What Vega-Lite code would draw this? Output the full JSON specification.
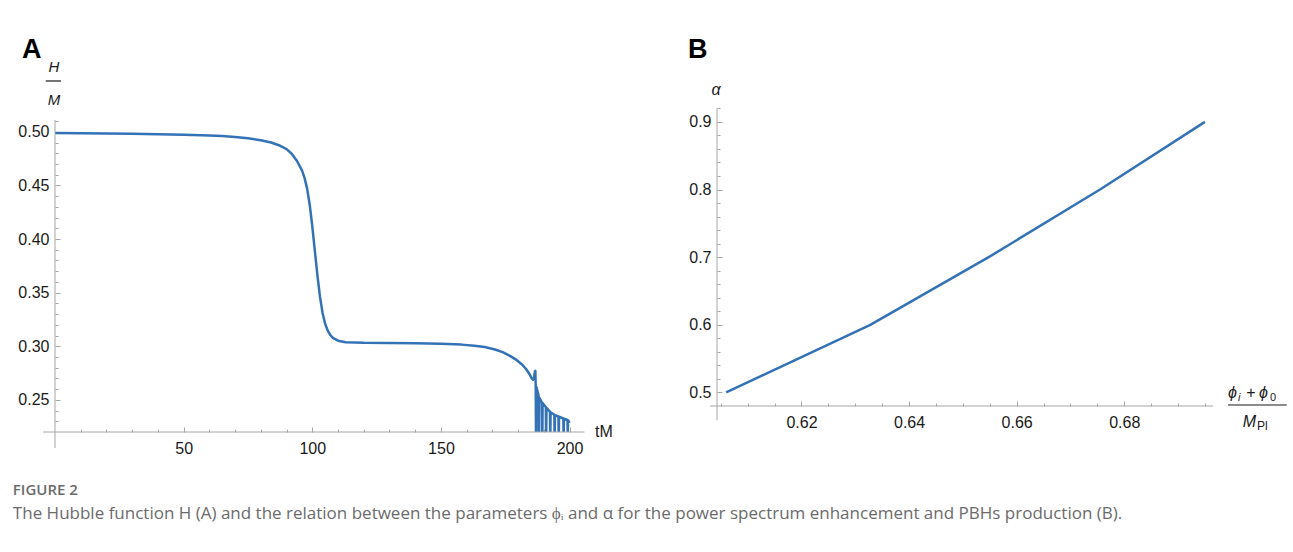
{
  "$schema": "https://vega.github.io/schema/vega-lite/v6.json",
  "background": "white",
  "padding": {"left": 12, "top": 36, "right": 5, "bottom": 5},
  "autosize": {"type": "pad"},
  "config": {
    "view": {"stroke": null},
    "axis": {"grid": false, "domain": false, "title": null, "labelFont": "Liberation Sans", "labelFontSize": 16, "labelColor": "#1a1a1a", "tickColor": "#a6a6a6", "tickWidth": 1, "labelFlush": false, "labelOverlap": false},
    "text": {"font": "Liberation Sans", "color": "#1a1a1a"}
  },
  "title": {
    "text": "FIGURE 2",
    "subtitle": "The Hubble function H (A) and the relation between the parameters ϕᵢ and α for the power spectrum enhancement and PBHs production (B).",
    "orient": "bottom",
    "anchor": "start",
    "frame": "bounds",
    "dx": -5,
    "offset": 27,
    "font": "Open Sans",
    "fontSize": 15,
    "fontWeight": 600,
    "color": "#6b6b6b",
    "subtitleFont": "Open Sans",
    "subtitleFontSize": 17,
    "subtitleColor": "#6b6b6b",
    "subtitlePadding": 8
  },
  "bounds": "flush",
  "spacing": 132,
  "hconcat": [
    {
      "width": 530,
      "height": 324,
      "resolve": {"axis": {"x": "independent", "y": "independent"}},
      "layer": [
        {
          "data": {"values": [
            {"t": 0, "h": 0.4988}, {"t": 10, "h": 0.4987}, {"t": 20, "h": 0.4985}, {"t": 30, "h": 0.4982}, {"t": 40, "h": 0.4978},
            {"t": 50, "h": 0.4973}, {"t": 60, "h": 0.4965}, {"t": 65, "h": 0.496}, {"t": 70, "h": 0.4952}, {"t": 75, "h": 0.494},
            {"t": 80, "h": 0.4922}, {"t": 84, "h": 0.49}, {"t": 87, "h": 0.4875}, {"t": 90, "h": 0.4838}, {"t": 92, "h": 0.4795},
            {"t": 94, "h": 0.473}, {"t": 96, "h": 0.464}, {"t": 97, "h": 0.457}, {"t": 98, "h": 0.447}, {"t": 99, "h": 0.432},
            {"t": 100, "h": 0.412}, {"t": 101, "h": 0.389}, {"t": 102, "h": 0.366}, {"t": 103, "h": 0.346}, {"t": 104, "h": 0.331},
            {"t": 105, "h": 0.321}, {"t": 106, "h": 0.3145}, {"t": 107, "h": 0.3105}, {"t": 108, "h": 0.3078}, {"t": 110, "h": 0.3052},
            {"t": 113, "h": 0.3038}, {"t": 120, "h": 0.3032}, {"t": 130, "h": 0.303}, {"t": 140, "h": 0.3027}, {"t": 150, "h": 0.3022},
            {"t": 158, "h": 0.3015}, {"t": 163, "h": 0.3005}, {"t": 167, "h": 0.2992}, {"t": 171, "h": 0.297}, {"t": 174, "h": 0.2945},
            {"t": 177, "h": 0.2908}, {"t": 179.5, "h": 0.287}, {"t": 181.5, "h": 0.283}, {"t": 183, "h": 0.279}, {"t": 184.3, "h": 0.2745},
            {"t": 185.2, "h": 0.2705}, {"t": 185.8, "h": 0.2688}, {"t": 186.2, "h": 0.2705}, {"t": 186.5, "h": 0.276}, {"t": 186.7, "h": 0.277},
            {"t": 186.85, "h": 0.262}, {"t": 187.0, "h": 0.2}, {"t": 187.12, "h": 0.262}, {"t": 187.98, "h": 0.254}, {"t": 188.1, "h": 0.203},
            {"t": 188.22, "h": 0.252}, {"t": 189.28, "h": 0.2475}, {"t": 189.4, "h": 0.206}, {"t": 189.52, "h": 0.247}, {"t": 190.78, "h": 0.243},
            {"t": 190.9, "h": 0.209}, {"t": 191.02, "h": 0.2425}, {"t": 192.38, "h": 0.239}, {"t": 192.5, "h": 0.211}, {"t": 192.62, "h": 0.2385},
            {"t": 194.08, "h": 0.236}, {"t": 194.2, "h": 0.213}, {"t": 194.32, "h": 0.2357}, {"t": 195.68, "h": 0.2345}, {"t": 195.8, "h": 0.215},
            {"t": 195.92, "h": 0.2342}, {"t": 197.58, "h": 0.2326}, {"t": 197.7, "h": 0.216}, {"t": 197.82, "h": 0.2324}, {"t": 199.18, "h": 0.2312},
            {"t": 199.3, "h": 0.217}, {"t": 199.42, "h": 0.231}, {"t": 200, "h": 0.2285}
          ]},
          "mark": {"type": "line", "clip": true, "color": "#3472b6", "strokeWidth": 2.5, "strokeJoin": "round"},
          "encoding": {
            "x": {"field": "t", "type": "quantitative", "scale": {"domain": [0, 206], "nice": false, "zero": false},
                  "axis": {"orient": "bottom", "values": [50, 100, 150, 200], "format": "d", "tickSize": -5, "labelPadding": 13}},
            "y": {"field": "h", "type": "quantitative", "scale": {"domain": [0.22, 0.5222], "nice": false, "zero": false},
                  "axis": {"orient": "left", "values": [0.25, 0.3, 0.35, 0.4, 0.45, 0.5], "format": ".2f", "tickSize": -5, "labelPadding": 11}}
          }
        },
        {
          "data": {"values": [{}]},
          "mark": {"type": "rule", "color": "#a6a6a6", "strokeWidth": 1},
          "encoding": {
            "x": {"datum": 0, "type": "quantitative", "axis": null},
            "y": {"datum": 0.205, "type": "quantitative",
                  "axis": {"orient": "left", "labels": false, "tickSize": -3, "values": [0.21, 0.23, 0.24, 0.26, 0.27, 0.28, 0.29, 0.31, 0.32, 0.33, 0.34, 0.36, 0.37, 0.38, 0.39, 0.41, 0.42, 0.43, 0.44, 0.46, 0.47, 0.48, 0.49, 0.51]}},
            "y2": {"datum": 0.511}
          }
        },
        {
          "data": {"values": [{}]},
          "mark": {"type": "rule", "color": "#a6a6a6", "strokeWidth": 1},
          "encoding": {
            "x": {"datum": -4.6, "type": "quantitative",
                  "axis": {"orient": "bottom", "labels": false, "tickSize": -3, "values": [10, 20, 30, 40, 60, 70, 80, 90, 110, 120, 130, 140, 160, 170, 180, 190]}},
            "x2": {"datum": 205.8},
            "y": {"datum": 0.22, "type": "quantitative", "axis": null}
          }
        },
        {
          "data": {"values": [{}]},
          "mark": {"type": "rule", "color": "#1a1a1a", "strokeWidth": 1.2},
          "encoding": {
            "x": {"datum": -3.6, "type": "quantitative", "axis": null},
            "x2": {"datum": 2.3},
            "y": {"datum": 0.5474, "type": "quantitative", "axis": null}
          }
        },
        {
          "data": {"values": [{}]},
          "mark": {"type": "text", "text": "A", "align": "left", "baseline": "alphabetic", "dx": -33, "dy": -50, "fontSize": 27, "fontWeight": "bold", "color": "#000000"},
          "encoding": {"x": {"datum": 0, "type": "quantitative", "axis": null}, "y": {"datum": 0.5222, "type": "quantitative", "axis": null}}
        },
        {
          "data": {"values": [{}]},
          "mark": {"type": "text", "text": "H", "align": "center", "baseline": "alphabetic", "dx": -1, "dy": -36, "fontSize": 15, "fontStyle": "italic"},
          "encoding": {"x": {"datum": 0, "type": "quantitative", "axis": null}, "y": {"datum": 0.5222, "type": "quantitative", "axis": null}}
        },
        {
          "data": {"values": [{}]},
          "mark": {"type": "text", "text": "M", "align": "center", "baseline": "alphabetic", "dx": -1, "dy": -3, "fontSize": 15, "fontStyle": "italic"},
          "encoding": {"x": {"datum": 0, "type": "quantitative", "axis": null}, "y": {"datum": 0.5222, "type": "quantitative", "axis": null}}
        },
        {
          "data": {"values": [{}]},
          "mark": {"type": "text", "text": "tM", "align": "left", "baseline": "middle", "dx": 10, "dy": 0, "fontSize": 16},
          "encoding": {"x": {"datum": 206, "type": "quantitative", "axis": null}, "y": {"datum": 0.22, "type": "quantitative", "axis": null}}
        }
      ]
    },
    {
      "width": 496,
      "height": 298,
      "resolve": {"axis": {"x": "independent", "y": "independent"}},
      "layer": [
        {
          "data": {"values": [
            {"phi": 0.606, "alpha": 0.5},
            {"phi": 0.6328, "alpha": 0.6},
            {"phi": 0.6548, "alpha": 0.7},
            {"phi": 0.6755, "alpha": 0.8},
            {"phi": 0.695, "alpha": 0.9}
          ]},
          "mark": {"type": "line", "clip": true, "color": "#3472b6", "strokeWidth": 2.5, "strokeJoin": "round"},
          "encoding": {
            "x": {"field": "phi", "type": "quantitative", "scale": {"domain": [0.6043, 0.6965], "nice": false, "zero": false},
                  "axis": {"orient": "bottom", "values": [0.62, 0.64, 0.66, 0.68], "format": ".2f", "tickSize": -5, "labelPadding": 13}},
            "y": {"field": "alpha", "type": "quantitative", "scale": {"domain": [0.48, 0.9205], "nice": false, "zero": false},
                  "axis": {"orient": "left", "values": [0.5, 0.6, 0.7, 0.8, 0.9], "format": ".1f", "tickSize": -5, "labelPadding": 11}}
          }
        },
        {
          "data": {"values": [{}]},
          "mark": {"type": "rule", "color": "#a6a6a6", "strokeWidth": 1},
          "encoding": {
            "x": {"datum": 0.6043, "type": "quantitative", "axis": null},
            "y": {"datum": 0.459, "type": "quantitative",
                  "axis": {"orient": "left", "labels": false, "tickSize": -3, "values": [0.46, 0.52, 0.54, 0.56, 0.58, 0.62, 0.64, 0.66, 0.68, 0.72, 0.74, 0.76, 0.78, 0.82, 0.84, 0.86, 0.88, 0.92]}},
            "y2": {"datum": 0.9205}
          }
        },
        {
          "data": {"values": [{}]},
          "mark": {"type": "rule", "color": "#a6a6a6", "strokeWidth": 1},
          "encoding": {
            "x": {"datum": 0.603, "type": "quantitative",
                  "axis": {"orient": "bottom", "labels": false, "tickSize": -3, "values": [0.605, 0.61, 0.615, 0.625, 0.63, 0.635, 0.645, 0.65, 0.655, 0.665, 0.67, 0.675, 0.685, 0.69, 0.695]}},
            "x2": {"datum": 0.6965},
            "y": {"datum": 0.48, "type": "quantitative", "axis": null}
          }
        },
        {
          "data": {"values": [{}]},
          "mark": {"type": "rule", "color": "#1a1a1a", "strokeWidth": 1.2},
          "encoding": {
            "x": {"datum": 0.69929, "type": "quantitative", "axis": null},
            "x2": {"datum": 0.7102},
            "y": {"datum": 0.4815, "type": "quantitative", "axis": null}
          }
        },
        {
          "data": {"values": [{}]},
          "mark": {"type": "text", "text": "B", "align": "left", "baseline": "alphabetic", "dx": -29, "dy": -50, "fontSize": 27, "fontWeight": "bold", "color": "#000000"},
          "encoding": {"x": {"datum": 0.6043, "type": "quantitative", "axis": null}, "y": {"datum": 0.9205, "type": "quantitative", "axis": null}}
        },
        {
          "data": {"values": [{}]},
          "mark": {"type": "text", "text": "α", "align": "center", "baseline": "alphabetic", "dx": -1, "dy": -13, "fontSize": 16, "fontStyle": "italic"},
          "encoding": {"x": {"datum": 0.6043, "type": "quantitative", "axis": null}, "y": {"datum": 0.9205, "type": "quantitative", "axis": null}}
        },
        {
          "data": {"values": [{}]},
          "mark": {"type": "text", "text": "ϕ", "align": "left", "baseline": "alphabetic", "dx": 15, "dy": -8, "fontSize": 16, "fontStyle": "italic"},
          "encoding": {"x": {"datum": 0.6965, "type": "quantitative", "axis": null}, "y": {"datum": 0.48, "type": "quantitative", "axis": null}}
        },
        {
          "data": {"values": [{}]},
          "mark": {"type": "text", "text": "i", "align": "left", "baseline": "alphabetic", "dx": 25, "dy": -5, "fontSize": 11, "fontStyle": "italic"},
          "encoding": {"x": {"datum": 0.6965, "type": "quantitative", "axis": null}, "y": {"datum": 0.48, "type": "quantitative", "axis": null}}
        },
        {
          "data": {"values": [{}]},
          "mark": {"type": "text", "text": "+", "align": "center", "baseline": "alphabetic", "dx": 38, "dy": -8, "fontSize": 16},
          "encoding": {"x": {"datum": 0.6965, "type": "quantitative", "axis": null}, "y": {"datum": 0.48, "type": "quantitative", "axis": null}}
        },
        {
          "data": {"values": [{}]},
          "mark": {"type": "text", "text": "ϕ", "align": "left", "baseline": "alphabetic", "dx": 46, "dy": -8, "fontSize": 16, "fontStyle": "italic"},
          "encoding": {"x": {"datum": 0.6965, "type": "quantitative", "axis": null}, "y": {"datum": 0.48, "type": "quantitative", "axis": null}}
        },
        {
          "data": {"values": [{}]},
          "mark": {"type": "text", "text": "0", "align": "left", "baseline": "alphabetic", "dx": 57, "dy": -5, "fontSize": 11},
          "encoding": {"x": {"datum": 0.6965, "type": "quantitative", "axis": null}, "y": {"datum": 0.48, "type": "quantitative", "axis": null}}
        },
        {
          "data": {"values": [{}]},
          "mark": {"type": "text", "text": "M", "align": "right", "baseline": "alphabetic", "dx": 43, "dy": 21, "fontSize": 16, "fontStyle": "italic"},
          "encoding": {"x": {"datum": 0.6965, "type": "quantitative", "axis": null}, "y": {"datum": 0.48, "type": "quantitative", "axis": null}}
        },
        {
          "data": {"values": [{}]},
          "mark": {"type": "text", "text": "Pl", "align": "left", "baseline": "alphabetic", "dx": 44, "dy": 24, "fontSize": 12},
          "encoding": {"x": {"datum": 0.6965, "type": "quantitative", "axis": null}, "y": {"datum": 0.48, "type": "quantitative", "axis": null}}
        }
      ]
    }
  ]
}
